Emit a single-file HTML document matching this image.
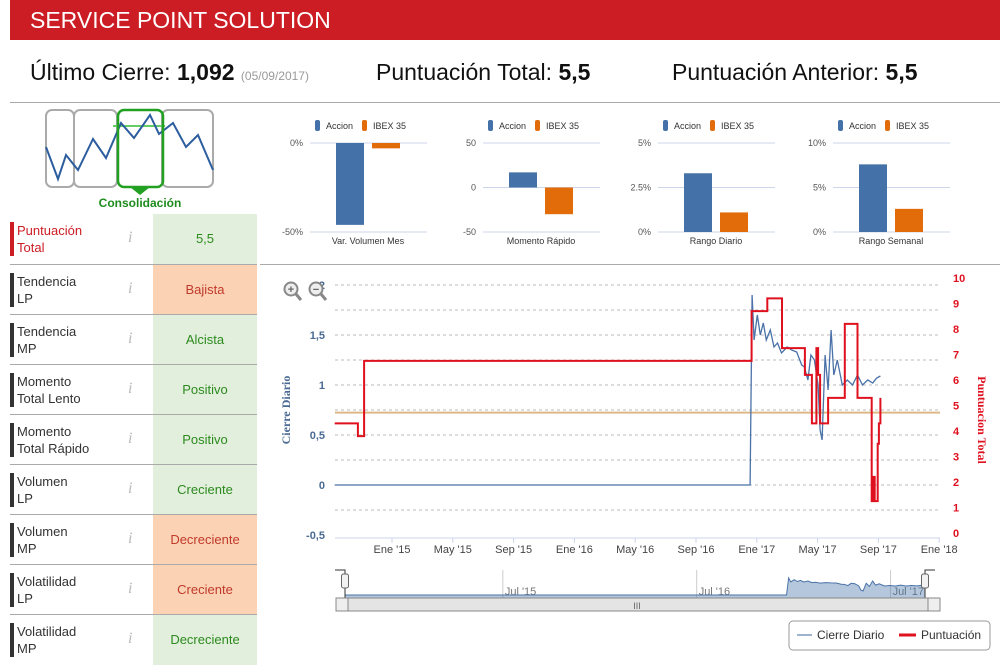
<!DOCTYPE html>
<html><head><meta charset="utf-8">
<style>
body{margin:0;width:1004px;height:660px;overflow:hidden;background:#fff;font-family:"Liberation Sans","DejaVu Sans",sans-serif;position:relative}
.abs{position:absolute}
#hdr{left:10px;top:0;width:990px;height:40px;background:#cc1d24;color:#fff;font-size:23px;line-height:40px;padding-left:20px;box-sizing:border-box}
#summary{left:10px;top:40px;width:990px;height:62px;border-bottom:1px solid #aaa;font-size:23px;color:#111}
#summary span{position:absolute;top:19px;white-space:nowrap}
.row{position:absolute;left:10px;width:247px;height:50px;border-top:1px solid #aaa}
.row .lbl{position:absolute;left:0;top:8px;height:34px;border-left:4px solid #333;padding-left:3px;font-size:13px;line-height:17px;color:#333}
.row .inf{position:absolute;left:118px;top:15px;font-family:"Liberation Serif",serif;font-style:italic;color:#bbb;font-size:16px}
.row .val{position:absolute;left:143px;top:0;width:104px;height:50px;line-height:50px;text-align:center;font-size:13px}
.g{background:#e2efdd;color:#2c8a1e}.o{background:#fbd3b4;color:#c1392b}
</style></head><body>
<div id="hdr" class="abs">SERVICE POINT SOLUTION</div>
<div id="summary" class="abs">
<span style="left:20px">Último Cierre: <b style="font-weight:600">1,092</b> <small style="font-size:12px;color:#999">(05/09/2017)</small></span>
<span style="left:366px">Puntuación Total: <b style="font-weight:600">5,5</b></span>
<span style="left:662px">Puntuación Anterior: <b style="font-weight:600">5,5</b></span>
</div>

<svg class="abs" style="left:40px;top:105px" width="185" height="110">
<rect x="6" y="5" width="28" height="77" rx="6" fill="none" stroke="#aaa" stroke-width="2"/>
<rect x="34" y="5" width="43" height="77" rx="6" fill="none" stroke="#aaa" stroke-width="2"/>
<rect x="122" y="5" width="51" height="77" rx="6" fill="none" stroke="#aaa" stroke-width="2"/>
<line x1="73" y1="21" x2="125" y2="21" stroke="#6c6" stroke-width="2"/>
<polyline fill="none" stroke="#2c5d9e" stroke-width="2" points="6,42 18,74 26,50 38,65 53,34 66,53 81,18 94,33 110,10 119,29 133,18 146,42 158,30 173,65"/>
<rect x="78" y="5" width="45" height="77" rx="6" fill="none" stroke="#22a022" stroke-width="2.5"/>
<polygon points="90,82 110,82 100,90" fill="#22a022"/>
<text x="100" y="102" text-anchor="middle" font-size="12" font-weight="bold" fill="#1e8c1e" font-family="Liberation Sans,sans-serif">Consolidación</text>
</svg>

<div id="rows"></div>

<svg class="abs" style="left:260px;top:105px" width="744" height="160" id="mini"></svg>
<div class="abs" style="left:260px;top:264px;width:740px;height:1px;background:#aaa"></div>

<svg class="abs" style="left:260px;top:265px" width="744" height="395" id="main"></svg>

<script>
const rowLabels=[["Puntuación","Total"],["Tendencia","LP"],["Tendencia","MP"],["Momento","Total Lento"],["Momento","Total Rápido"],["Volumen","LP"],["Volumen","MP"],["Volatilidad","LP"],["Volatilidad","MP"]];
const rowValues=["5,5","Bajista","Alcista","Positivo","Positivo","Creciente","Decreciente","Creciente","Decreciente"];
const rowClass=["g","o","g","g","g","g","o","o","g"];
const rc=document.getElementById('rows');
rowLabels.forEach((l,i)=>{
 const r=document.createElement('div');r.className='row';r.style.top=(214+i*50)+'px';
 if(i===0)r.style.borderTop='none';
 
 
 r.innerHTML='<div class="lbl" style="'+(i===0?'border-color:#cc1d24;color:#cc1d24':'')+'">'+l[0]+'<br>'+l[1]+'</div><div class="inf">i</div><div class="val '+rowClass[i]+'">'+rowValues[i]+'</div>';
 const inf=r.querySelector('.inf');
 
 
 rc.appendChild(r);
});

const miniTitles=["Var. Volumen Mes","Momento Rápido","Rango Diario","Rango Semanal"];
const miniTicks=[["0%","-50%"],["50","0","-50"],["5%","2.5%","0%"],["10%","5%","0%"]];
const miniMax=[0,50,5,10];
const miniMin=[-50,-50,0,0];
const accionVals=[-46,17,3.3,7.6];
const ibexVals=[-3,-30,1.1,2.6];
const NS='http://www.w3.org/2000/svg';
function el(p,t,a){const e=document.createElementNS(NS,t);for(const k in a)e.setAttribute(k,a[k]);p.appendChild(e);return e;}
const mini=document.getElementById('mini');
const miniX=[50,223,398,573];
miniTitles.forEach((t,i)=>{
 const x0=miniX[i],top=38,bot=127;
 const g=el(mini,'g',{});
 
 
 const y=v=>top+(miniMax[i]-v)/(miniMax[i]-miniMin[i])*(bot-top);
 const tk=miniTicks[i];
 tk.forEach((s,j)=>{const yy=top+j*(bot-top)/(tk.length-1);
  el(g,'line',{x1:x0,x2:x0+117,y1:yy,y2:yy,stroke:'#ccd6eb','stroke-width':1});
  const tt=el(g,'text',{x:x0-7,y:yy+3,'text-anchor':'end','font-size':9,fill:'#555'});tt.textContent=s;});
 el(g,'rect',{x:x0+5,y:15,width:5,height:11,rx:2,fill:'#4472a8'});
 const lt1=el(g,'text',{x:x0+16,y:24,'font-size':9,fill:'#333'});lt1.textContent='Accion';
 el(g,'rect',{x:x0+52,y:15,width:5,height:11,rx:2,fill:'#e36c0a'});
 const lt2=el(g,'text',{x:x0+63,y:24,'font-size':9,fill:'#333'});lt2.textContent='IBEX 35';
 const z=y(Math.max(miniMin[i],Math.min(miniMax[i],0)));
 const a=y(accionVals[i]),b=y(ibexVals[i]);
 const r1=el(g,'rect',{x:x0+26,y:Math.min(a,z),width:28,height:Math.abs(a-z),fill:'#4472a8'});
 
 
 const r2=el(g,'rect',{x:x0+62,y:Math.min(b,z),width:28,height:Math.abs(b-z),fill:'#e36c0a'});
 
 
 const tl=el(g,'text',{x:x0+58,y:139,'text-anchor':'middle','font-size':9,fill:'#333'});tl.textContent=t;
});

const scoreDates=["2014-09-08","2014-10-24","2014-11-06","2016-12-21","2017-01-22","2017-02-21","2017-04-06","2017-04-20","2017-04-29","2017-05-02","2017-05-06","2017-05-22","2017-06-25","2017-07-20","2017-08-18","2017-08-21","2017-08-24","2017-08-30","2017-09-02","2017-09-05"];
const scoreVals=[4.3,3.8,6.75,8.7,9.2,7.25,6.2,4.3,7.25,6.2,4.3,5.3,8.2,5.3,1.25,2.2,1.25,3.5,4.3,5.3];
const closeDates=["2014-09-08","2016-12-18","2016-12-22","2016-12-26","2017-01-02","2017-01-08","2017-01-14","2017-01-20","2017-01-28","2017-02-05","2017-02-12","2017-02-20","2017-03-01","2017-03-10","2017-03-20","2017-03-30","2017-04-05","2017-04-12","2017-04-18","2017-04-25","2017-05-02","2017-05-06","2017-05-10","2017-05-16","2017-05-22","2017-05-28","2017-06-03","2017-06-10","2017-06-20","2017-06-30","2017-07-10","2017-07-20","2017-07-30","2017-08-10","2017-08-20","2017-08-28","2017-09-05"];
const closeVals=[0,0,1.9,1.45,1.7,1.5,1.62,1.45,1.55,1.38,1.42,1.32,1.38,1.35,1.33,1.2,1.18,1.05,1.3,1.25,1.0,0.55,0.45,1.3,0.95,1.55,1.1,1.25,1.0,1.05,1.0,1.1,1.0,1.05,1.02,1.07,1.09];
const leftTicks=[2,1.5,1,0.5,0,-0.5];
const leftTickLabels=["2","1,5","1","0,5","0","-0,5"];
const rightTicks=[10,9,8,7,6,5,4,3,2,1,0];
const xTickDates=["2015-01-01","2015-05-01","2015-09-01","2016-01-01","2016-05-01","2016-09-01","2017-01-01","2017-05-01","2017-09-01","2018-01-01"];
const xTickLabels=["Ene '15","May '15","Sep '15","Ene '16","May '16","Sep '16","Ene '17","May '17","Sep '17","Ene '18"];
const navTickDates=["2015-07-01","2016-07-01","2017-07-01"];
const navTickLabels=["Jul '15","Jul '16","Jul '17"];
const refLine=4.72;

const OX=260,OY=265;
function months(d){const p=d.split('-').map(Number);return (p[0]-2015)*12+(p[1]-1)+(p[2]-1)/30.4;}
const X=d=>392-OX+months(d)*15.2;
const YL=v=>485-OY-100*v;
const YR=v=>533-OY-25.5*v;
const m=document.getElementById('main');
const plotL=335-OX,plotR=940-OX;
[2,1.75,1.5,1.25,1,0.75,0.5,0.25,0,-0.25].forEach(v=>{const yy=YL(v);const gl=el(m,'line',{x1:plotL,x2:plotR,y1:yy,y2:yy,stroke:'#bbb','stroke-dasharray':'3,3'});
 
 });
el(m,'line',{x1:plotL,x2:plotR,y1:538-OY,y2:538-OY,stroke:'#ccd6eb'});
leftTicks.forEach((v,i)=>{const t=el(m,'text',{x:65,y:YL(v)+4,'text-anchor':'end','font-size':11,'font-weight':'bold',fill:'#4a6a93'});t.textContent=leftTickLabels[i];
 
 });
rightTicks.forEach(v=>{const t=el(m,'text',{x:693,y:YR(v)+4,'font-size':11,'font-weight':'bold',fill:'#e0111f'});t.textContent=v;
 
 });
xTickDates.forEach((d,i)=>{const x=X(d);el(m,'line',{x1:x,x2:x,y1:538-OY,y2:543-OY,stroke:'#ccd6eb'});
 const t=el(m,'text',{x:x,y:553-OY,'text-anchor':'middle','font-size':11,fill:'#444'});t.textContent=xTickLabels[i];
 
 });
const yt=el(m,'text',{transform:'translate(30,'+(410-OY)+') rotate(-90)','text-anchor':'middle','font-size':12,'font-weight':'bold',fill:'#4a6a93','font-family':'Liberation Serif,serif'});yt.textContent='Cierre Diario';


const yt2=el(m,'text',{transform:'translate(718,'+(420-OY)+') rotate(90)','text-anchor':'middle','font-size':12,'font-weight':'bold',fill:'#e0111f','font-family':'Liberation Serif,serif'});yt2.textContent='Puntuacion Total';


const rl=el(m,'line',{x1:plotL,x2:plotR,y1:YR(refLine),y2:YR(refLine),stroke:'#deb887','stroke-width':2});


let pts=closeDates.map((d,i)=>X(d)+','+YL(closeVals[i])).join(' ');
const cl=el(m,'polyline',{points:pts,fill:'none',stroke:'#4a72a8','stroke-width':1.3});


let sp=[];scoreDates.forEach((d,i)=>{if(i>0)sp.push(X(d)+','+YR(scoreVals[i-1]));sp.push(X(d)+','+YR(scoreVals[i]));});
const sl=el(m,'polyline',{points:sp.join(' '),fill:'none',stroke:'#e0111f','stroke-width':2});


[[291,'+','zoom-in-button'],[316,'−','zoom-out-button']].forEach(z=>{const g=el(m,'g',{});
 
 
 el(g,'circle',{cx:z[0]-OX,cy:289-OY,r:6.5,fill:'#eee',stroke:'#888','stroke-width':2});
 el(g,'line',{x1:z[0]-OX+5,y1:294-OY,x2:z[0]-OX+10,y2:300-OY,stroke:'#888','stroke-width':3});
 const t=el(g,'text',{x:z[0]-OX,y:293-OY,'text-anchor':'middle','font-size':11,'font-weight':'bold',fill:'#666'});t.textContent=z[1];});
const nL=345-OX,nR=925-OX,nT=570-OY,nB=598-OY;
const navStart="2014-09-08",navEnd="2017-09-05";
const NX=d=>nL+(months(d)-months(navStart))/(months(navEnd)-months(navStart))*(nR-nL);
const NY=v=>nB-3-v*9;
navTickDates.forEach((d,i)=>{const x=NX(d);el(m,'line',{x1:x,x2:x,y1:nT,y2:nB,stroke:'#ccc'});
 const t=el(m,'text',{x:x+2,y:nB-3,'font-size':11,fill:'#777'});t.textContent=navTickLabels[i];});
let np=closeDates.map((d,i)=>NX(d)+','+NY(closeVals[i])).join(' ');
const na=el(m,'polygon',{points:NX(navStart)+','+nB+' '+np+' '+NX(navEnd)+','+nB,fill:'rgba(68,114,168,0.4)',stroke:'#4a72a8','stroke-width':1});


el(m,'path',{d:'M'+(nL-10)+' '+nT+' H'+nL+' V'+nB+' M'+(nR+10)+' '+nT+' H'+nR+' V'+nB,fill:'none',stroke:'#333'});
[nL,nR].forEach(x=>{const h=el(m,'rect',{x:x-3.5,y:574-OY,width:7,height:14,rx:2,fill:'#f2f2f2',stroke:'#666'});
 
 });
const sb=el(m,'rect',{x:336-OX,y:598-OY,width:604,height:13,fill:'#eee',stroke:'#888'});


el(m,'rect',{x:348-OX,y:598-OY,width:580,height:13,fill:'#e4e4e4',stroke:'#888'});
const st=el(m,'text',{x:637-OX,y:609-OY,'text-anchor':'middle','font-size':9,fill:'#666'});st.textContent='III';
const lg=el(m,'g',{});


el(lg,'rect',{x:789-OX,y:621-OY,width:201,height:29,rx:4,fill:'#fff',stroke:'#999'});
el(lg,'line',{x1:797-OX,x2:812-OX,y1:635-OY,y2:635-OY,stroke:'#9fb3cf','stroke-width':2});
const lt=el(lg,'text',{x:817-OX,y:639-OY,'font-size':12,fill:'#333'});lt.textContent='Cierre Diario';
el(lg,'line',{x1:899-OX,x2:916-OX,y1:635-OY,y2:635-OY,stroke:'#e0111f','stroke-width':3});
const lt3=el(lg,'text',{x:921-OX,y:639-OY,'font-size':12,fill:'#333'});lt3.textContent='Puntuación';
</script>
</body></html>
